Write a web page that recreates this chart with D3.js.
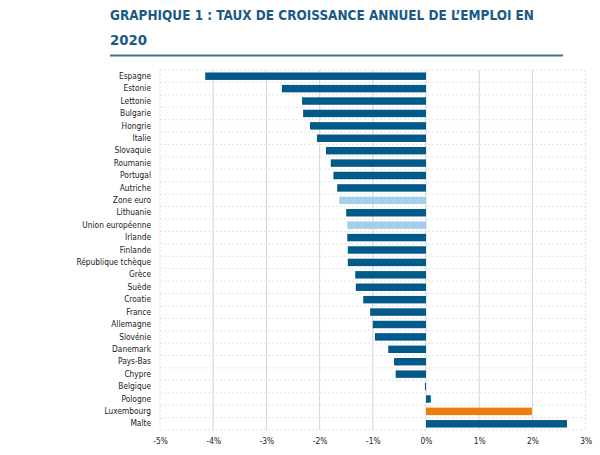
<!DOCTYPE html>
<html>
<head>
  <meta charset="UTF-8">
  <title>Taux de croissance annuel de l'emploi en 2020</title>
  <script src="https://cdnjs.cloudflare.com/ajax/libs/d3/7.8.5/d3.min.js"></script>
  <style>
    body { margin: 0; background: #fff; }
    svg { display: block; }
  </style>
</head>
<body>
<script>
  var pays = ["Espagne", "Estonie", "Lettonie", "Bulgarie", "Hongrie", "Italie", "Slovaquie",
    "Roumanie", "Portugal", "Autriche", "Zone euro", "Lithuanie", "Union européenne", "Irlande",
    "Finlande", "République tchèque", "Grèce", "Suède", "Croatie", "France", "Allemagne",
    "Slovénie", "Danemark", "Pays-Bas", "Chypre", "Belgique", "Pologne", "Luxembourg", "Malte"];
  var croissance = [-4.15, -2.71, -2.33, -2.31, -2.18, -2.05, -1.88, -1.79, -1.74, -1.67,
    -1.63, -1.50, -1.48, -1.48, -1.47, -1.47, -1.33, -1.32, -1.18, -1.05, -1.00,
    -0.96, -0.71, -0.60, -0.57, -0.02, 0.09, 1.99, 2.65];
  var agregats = ["Zone euro", "Union européenne"];
  var ticks = [-5, -4, -3, -2, -1, 0, 1, 2, 3];

  var W = 600, H = 455;
  var police = "'DejaVu Sans Condensed', 'DejaVu Sans'";
  var svg = d3.select("body").append("svg").attr("width", W).attr("height", H);

  // titre
  var titre = svg.append("g").attr("fill", "#1b5987")
    .style("font-family", police)
    .style("font-weight", "bold").style("font-size", "14px");
  titre.append("text").attr("x", 110).attr("y", 20)
    .attr("textLength", 424).attr("lengthAdjust", "spacingAndGlyphs")
    .text("GRAPHIQUE 1 : TAUX DE CROISSANCE ANNUEL DE L\u2019EMPLOI EN");
  titre.append("text").attr("x", 110).attr("y", 45)
    .attr("textLength", 37).attr("lengthAdjust", "spacingAndGlyphs")
    .text("2020");
  svg.append("line").attr("x1", 110).attr("x2", 563).attr("y1", 55.5).attr("y2", 55.5)
    .attr("stroke", "#3f7399").attr("stroke-width", 2);

  var x = d3.scaleLinear().domain([-5, 3]).range([160, 585.6]);
  var y = d3.scaleBand().domain(pays).range([70, 430]).paddingInner(0.4).paddingOuter(0.2);

  var grille = svg.append("g");
  // separations horizontales en pointillés
  var pas = 360 / pays.length;
  grille.selectAll("line.h").data(d3.range(pays.length + 1)).join("line")
    .attr("class", "h")
    .attr("x1", x(-5)).attr("x2", x(3))
    .attr("y1", function(i) { return 70 + i * pas; })
    .attr("y2", function(i) { return 70 + i * pas; })
    .attr("stroke", "#dcdcdc").attr("stroke-width", 0.8).attr("stroke-dasharray", "2,2");
  // verticales
  grille.selectAll("line.v").data(ticks).join("line")
    .attr("class", "v")
    .attr("x1", function(d) { return x(d); }).attr("x2", function(d) { return x(d); })
    .attr("y1", 70).attr("y2", 430)
    .attr("stroke", function(d) { return (d === -5 || d === 3) ? "#dcdcdc" : "#d6d6d6"; })
    .attr("stroke-width", 1)
    .attr("stroke-dasharray", function(d) { return (d === -5 || d === 3) ? "2,2" : null; });

  var data = pays.map(function(p, i) { return { pays: p, v: croissance[i] }; });

  svg.append("g").selectAll("rect").data(data).join("rect")
    .attr("x", function(d) { return x(Math.min(0, d.v)); })
    .attr("width", function(d) { return Math.max(0.6, Math.abs(x(d.v) - x(0))); })
    .attr("y", function(d) { return y(d.pays); })
    .attr("height", y.bandwidth())
    .attr("fill", function(d) {
      if (d.pays === "Luxembourg") return "#ee7d0a";
      if (agregats.indexOf(d.pays) >= 0) return "#a3cfe9";
      return "#025a8a";
    });

  // étiquettes pays
  svg.append("g")
    .attr("transform", "translate(151,0)")
    .call(d3.axisLeft(y).tickSize(0).tickPadding(0))
    .call(function(g) { g.select(".domain").remove(); })
    .selectAll("text")
    .style("font-family", police)
    .style("font-size", "8.3px").attr("fill", "#1a1a1a");

  // axe x
  svg.append("g")
    .attr("transform", "translate(0,434)")
    .call(d3.axisBottom(x).tickValues(ticks).tickSize(0).tickPadding(4)
      .tickFormat(function(d) { return d + "%"; }))
    .call(function(g) { g.select(".domain").remove(); })
    .selectAll("text")
    .style("font-family", police)
    .style("font-size", "8.3px").attr("fill", "#1a1a1a");
</script>
</body>
</html>
